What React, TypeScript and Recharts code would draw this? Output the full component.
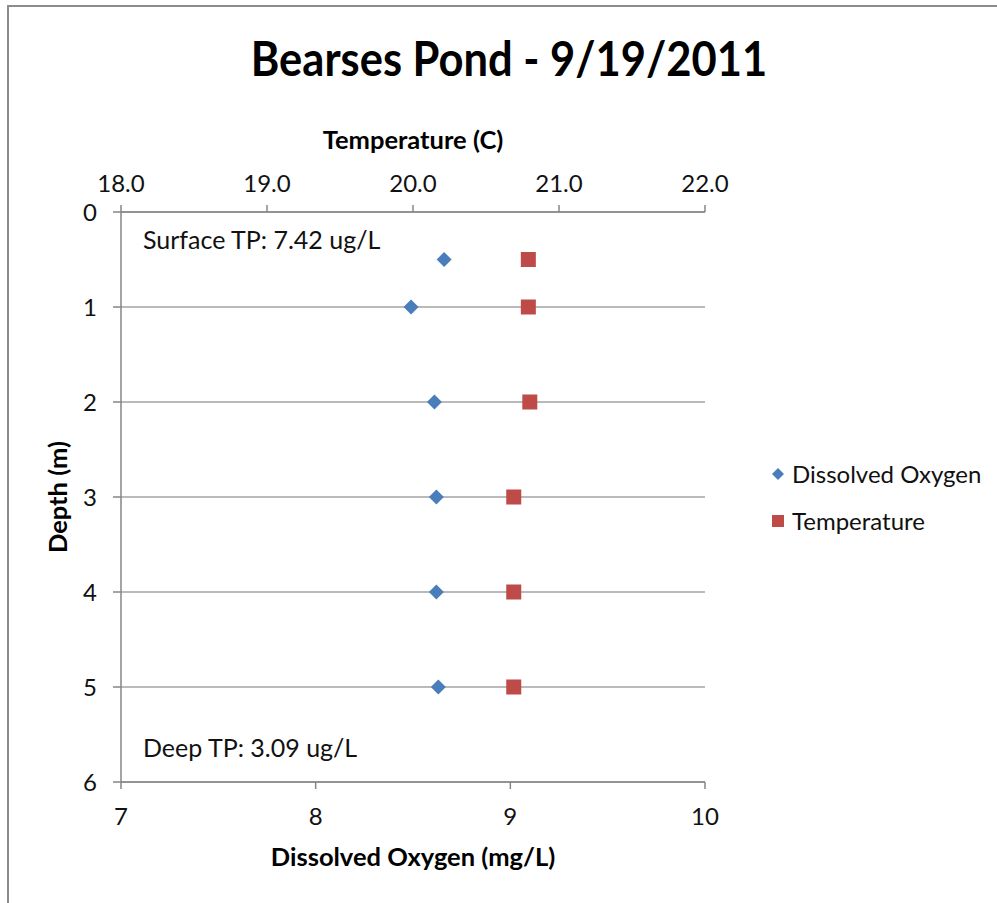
import {
  ScatterChart,
  Scatter,
  XAxis,
  YAxis,
  CartesianGrid,
  Legend,
} from "recharts";

// depth profile, 9/19/2011
const depths = [0.5, 1, 2, 3, 4, 5];
const dissolvedOxygen = [8.66, 8.49, 8.61, 8.62, 8.62, 8.63];
const temperature = [20.79, 20.79, 20.8, 20.69, 20.69, 20.69];

const depthTicks = [0, 1, 2, 3, 4, 5, 6];
const oxygenTicks = [7, 8, 9, 10];
const tempTicks = [18, 19, 20, 21, 22];

const surfaceNote = "Surface TP: 7.42 ug/L";
const deepNote = "Deep TP: 3.09 ug/L";

const BLUE = "#4a7ebb";
const RED = "#be4b48";
const AXIS = "#868686";
const GRID = "#a3a3a3";
const FONT = "Lato, 'Open Sans', sans-serif";

const oxygenData = depths.map((depth, i) => ({ depth, oxygen: dissolvedOxygen[i] }));
const tempData = depths.map((depth, i) => ({ depth, temp: temperature[i] }));

function Diamond(props: any) {
  const { cx, cy } = props;
  const r = 7.5;
  return (
    <polygon
      points={`${cx},${cy - r} ${cx + r},${cy} ${cx},${cy + r} ${cx - r},${cy}`}
      fill={BLUE}
    />
  );
}

function Square(props: any) {
  const { cx, cy } = props;
  return <rect x={cx - 7.5} y={cy - 7.5} width={15} height={15} fill={RED} />;
}

function LegendBox() {
  const row = { display: "flex", alignItems: "center", height: 47 } as const;
  return (
    <div style={{ fontFamily: FONT, fontSize: 24, color: "#111" }}>
      <div style={row}>
        <svg width={22} height={14}>
          <polygon points="8,1 14,7 8,13 2,7" fill={BLUE} />
        </svg>
        <span>Dissolved Oxygen</span>
      </div>
      <div style={row}>
        <svg width={22} height={14}>
          <rect x={2} y={1} width={12} height={12} fill={RED} />
        </svg>
        <span>Temperature</span>
      </div>
    </div>
  );
}

const tickStyle = { fill: "#111", fontSize: 24, fontFamily: FONT };
const titleStyle = { fill: "#000", fontSize: 25.5, fontWeight: 700, fontFamily: FONT };

const noteStyle = {
  position: "absolute",
  left: 143,
  transform: "translateY(-50%)",
  fontSize: 25,
  lineHeight: 1,
  color: "#111",
  whiteSpace: "nowrap",
} as const;

export default function App() {
  return (
    <div
      style={{
        position: "absolute",
        left: 0,
        top: 0,
        width: 997,
        height: 903,
        overflow: "hidden",
        background: "#fff",
        fontFamily: FONT,
      }}
    >
      <div
        style={{
          position: "absolute",
          left: 7,
          top: 5,
          width: 1100,
          height: 1000,
          borderTop: "2px solid #8c8c8c",
          borderLeft: "2px solid #8c8c8c",
        }}
      />
      <div
        style={{
          position: "absolute",
          left: 509,
          top: 58,
          transform: "translate(-50%, -50%) scaleY(1.08)",
          fontSize: 43.5,
          fontWeight: 700,
          lineHeight: 1,
          whiteSpace: "nowrap",
        }}
      >
        Bearses Pond - 9/19/2011
      </div>

      <div style={{ position: "absolute", left: 0, top: 0 }}>
        <ScatterChart
          width={997}
          height={903}
          margin={{ top: 172, right: 292, bottom: 81, left: 61 }}
        >
          <CartesianGrid
            horizontal
            vertical={false}
            stroke={GRID}
            strokeWidth={1.5}
            xAxisId={0}
            yAxisId={0}
          />
          <XAxis
            xAxisId={0}
            type="number"
            dataKey="oxygen"
            orientation="bottom"
            domain={[7, 10]}
            ticks={oxygenTicks}
            height={40}
            tick={tickStyle}
            tickSize={7}
            tickMargin={19}
            stroke={AXIS}
            strokeWidth={1.5}
            label={{
              value: "Dissolved Oxygen (mg/L)",
              position: "bottom",
              offset: 26,
              style: titleStyle,
            }}
          />
          <XAxis
            xAxisId="temp"
            type="number"
            dataKey="temp"
            orientation="top"
            domain={[18, 22]}
            ticks={tempTicks}
            tickFormatter={(v: number) => v.toFixed(1)}
            height={40}
            tick={tickStyle}
            tickSize={7}
            tickMargin={13}
            stroke={AXIS}
            strokeWidth={1.5}
            label={{
              value: "Temperature (C)",
              position: "top",
              offset: 23,
              style: titleStyle,
            }}
          />
          <YAxis
            yAxisId={0}
            type="number"
            dataKey="depth"
            domain={[0, 6]}
            ticks={depthTicks}
            reversed
            width={60}
            tick={tickStyle}
            tickSize={8}
            tickMargin={16}
            stroke={AXIS}
            strokeWidth={1.5}
            label={{
              value: "Depth (m)",
              angle: -90,
              position: "insideLeft",
              offset: -3,
              style: { ...titleStyle, textAnchor: "middle" },
            }}
          />
          <Legend
            layout="vertical"
            align="center"
            verticalAlign="middle"
            content={() => <LegendBox />}
            wrapperStyle={{ left: 770, top: 450, width: 227 }}
          />
          <Scatter
            name="Dissolved Oxygen"
            data={oxygenData}
            xAxisId={0}
            yAxisId={0}
            shape={Diamond}
            isAnimationActive={false}
          />
          <Scatter
            name="Temperature"
            data={tempData}
            xAxisId="temp"
            yAxisId={0}
            shape={Square}
            isAnimationActive={false}
          />
        </ScatterChart>
      </div>

      <div style={{ ...noteStyle, top: 239 }}>{surfaceNote}</div>
      <div style={{ ...noteStyle, top: 747 }}>{deepNote}</div>
    </div>
  );
}
